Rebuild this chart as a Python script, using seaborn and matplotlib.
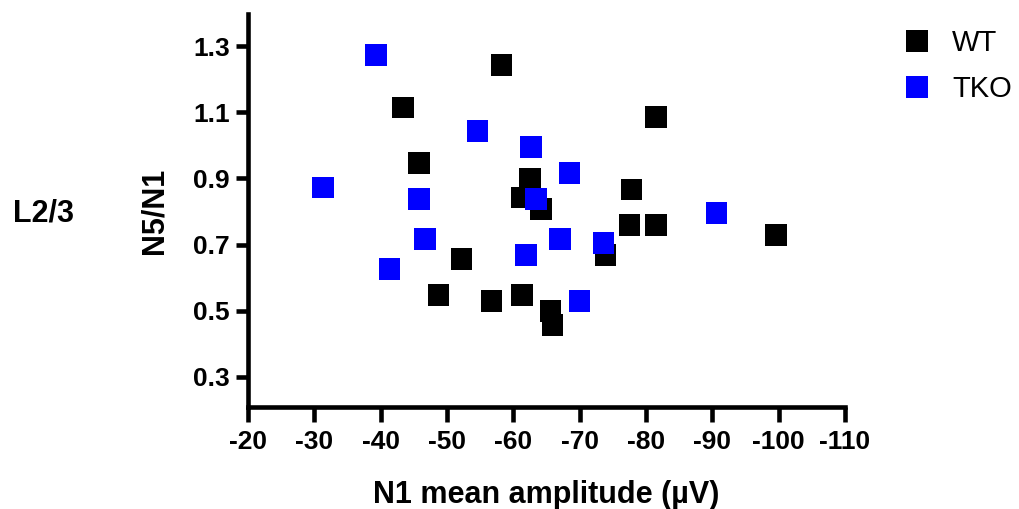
import numpy as np
import pandas as pd
import matplotlib
matplotlib.use("Agg")
import matplotlib.pyplot as plt
import seaborn as sns
from matplotlib.lines import Line2D

# ---- data ----
wt_x = [-58.2, -43.4, -45.8, -52.2, -48.7, -56.7, -61.3, -81.5, -62.5,
        -61.3, -64.2, -77.8, -77.5, -81.5, -73.9, -99.6, -65.6, -65.9]
wt_y = [1.243, 1.115, 0.946, 0.656, 0.547, 0.529, 0.547, 1.086, 0.898,
        0.843, 0.807, 0.867, 0.759, 0.759, 0.668, 0.729, 0.499, 0.457]
tko_x = [-39.3, -54.6, -62.7, -31.3, -45.8, -46.7, -41.3, -61.9, -68.5,
         -63.4, -67.0, -73.6, -70.0, -90.6]
tko_y = [1.273, 1.043, 0.995, 0.873, 0.837, 0.717, 0.626, 0.668, 0.917,
         0.837, 0.717, 0.705, 0.529, 0.795]
groups = ["WT", "TKO"]
colors = {"WT": "#000000", "TKO": "#0000FF"}
x_ticks = [-20, -30, -40, -50, -60, -70, -80, -90, -100, -110]
y_ticks = [0.3, 0.5, 0.7, 0.9, 1.1, 1.3]
x_label = "N1 mean amplitude (\u00b5V)"
y_label = "N5/N1"
row_label = "L2/3"

df = pd.DataFrame({
    "amp": wt_x + tko_x,
    "ratio": wt_y + tko_y,
    "group": ["WT"] * len(wt_x) + ["TKO"] * len(tko_x),
})

sns.set_style("ticks")
plt.rcParams["font.family"] = ["Liberation Sans", "DejaVu Sans"]
plt.rcParams["text.color"] = "black"
plt.rcParams["axes.labelcolor"] = "black"
plt.rcParams["xtick.color"] = "black"
plt.rcParams["ytick.color"] = "black"

fig = plt.figure(figsize=(10.19, 5.09), dpi=100)
ax = fig.add_axes([248 / 1019, 102 / 509, 597 / 1019, 393 / 509])

sns.scatterplot(data=df, x="amp", y="ratio", hue="group", hue_order=groups,
                palette=colors, marker="s", s=240, linewidth=0,
                ax=ax, legend=False)

ax.set_xlim(-20, -110)
ax.set_ylim(0.209, 1.397)
ax.set_xticks(x_ticks)
ax.set_xticklabels([str(v) for v in x_ticks])
ax.set_yticks(y_ticks)
ax.set_yticklabels([f"{v:.1f}" for v in y_ticks])

for s in ["top", "right"]:
    ax.spines[s].set_visible(False)
for s in ["left", "bottom"]:
    ax.spines[s].set_linewidth(3.3)
    ax.spines[s].set_color("black")
    ax.spines[s].set_capstyle("projecting")
ax.tick_params(axis="both", width=3.3, color="black",
               labelsize=19, labelcolor="black")
ax.tick_params(axis="x", length=11, pad=5.5)
ax.tick_params(axis="y", length=9, pad=4)
for lab in ax.get_xticklabels() + ax.get_yticklabels():
    lab.set_fontweight("bold")

ax.set_xlabel(x_label, fontsize=22, fontweight="bold", color="black")
ax.set_ylabel(y_label, fontsize=22, fontweight="bold", color="black")
ax.xaxis.set_label_coords(0.5, -0.185)
ax.yaxis.set_label_coords(-0.132, 0.5)

fig.text(13 / 1019, 0.5815, row_label, ha="left", va="center",
         fontsize=22, fontweight="bold", color="black")

# legend
handles = [Line2D([], [], marker="s", linestyle="none", markersize=15.6,
                  markerfacecolor=colors[g], markeredgewidth=0) for g in groups]
fig.legend(handles, groups, loc="upper left", bbox_to_anchor=(0.8857, 0.943),
           frameon=False, fontsize=21, handlelength=1.0, handletextpad=0.7,
           labelspacing=0.63, borderpad=0, borderaxespad=0, labelcolor="black")

fig.savefig("out.png", dpi=100)
